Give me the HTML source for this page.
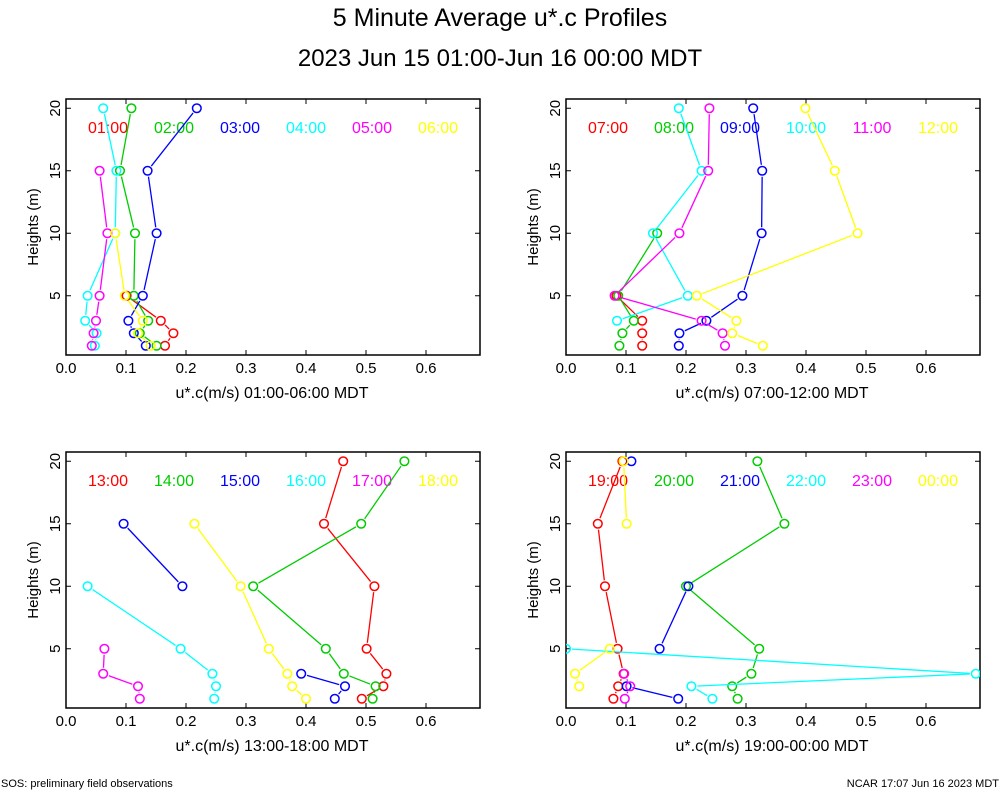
<!DOCTYPE html>
<html><head><meta charset="utf-8"><style>
body{margin:0;background:#fff;}
svg{display:block;font-family:"Liberation Sans",sans-serif;}
</style></head><body>
<svg id="chart" width="1000" height="800">
<text x="500" y="26" font-size="25" text-anchor="middle">5 Minute Average u*.c Profiles</text>
<text x="500" y="66" font-size="24" text-anchor="middle">2023 Jun 15 01:00-Jun 16 00:00 MDT</text>
<text x="1" y="787" font-size="11">SOS: preliminary field observations</text>
<text x="999" y="787" font-size="11" text-anchor="end">NCAR 17:07 Jun 16 2023 MDT</text>
</svg>
<script>
const heights = [1,2,3,5,10,15,20];
const xTicks = [0,0.1,0.2,0.3,0.4,0.5,0.6];
const xTickLabels = ["0.0","0.1","0.2","0.3","0.4","0.5","0.6"];
const yTicks = [5,10,15,20];
const colors = ["#ff0000","#00cc00","#0000ff","#00ffff","#ff00ff","#ffff00"];
const p1Labels = ["01:00","02:00","03:00","04:00","05:00","06:00"];
const p1s1 = [0.165,0.179,0.158,0.101,null,null,null];
const p1s2 = [0.151,0.123,0.137,0.113,0.115,0.090,0.109];
const p1s3 = [0.133,0.113,0.104,0.128,0.151,0.136,0.218];
const p1s4 = [0.048,0.051,0.032,0.036,0.082,0.084,0.062];
const p1s5 = [0.043,0.046,0.050,0.056,0.069,0.056,null];
const p1s6 = [0.141,0.120,0.128,0.098,0.082,null,null];
const p2Labels = ["07:00","08:00","09:00","10:00","11:00","12:00"];
const p2s1 = [0.127,0.127,0.127,0.084,null,null,null];
const p2s2 = [0.089,0.094,0.113,0.087,0.152,null,null];
const p2s3 = [0.188,0.189,0.234,0.294,0.326,0.327,0.312];
const p2s4 = [null,null,0.085,0.203,0.145,0.226,0.188];
const p2s5 = [0.265,0.261,0.226,0.081,0.189,0.237,0.239];
const p2s6 = [0.328,0.277,0.284,0.218,0.486,0.448,0.399];
const p3Labels = ["13:00","14:00","15:00","16:00","17:00","18:00"];
const p3s1 = [0.493,0.529,0.534,0.501,0.514,0.430,0.462];
const p3s2 = [0.511,0.516,0.463,0.433,0.312,0.492,0.564];
const p3s3 = [0.448,0.465,0.392,null,0.194,0.096,null];
const p3s4 = [0.247,0.250,0.244,0.191,0.036,null,null];
const p3s5 = [0.123,0.120,0.062,0.064,null,null,null];
const p3s6 = [0.400,0.377,0.369,0.338,0.291,0.214,null];
const p4Labels = ["19:00","20:00","21:00","22:00","23:00","00:00"];
const p4s1 = [0.079,0.087,0.096,0.086,0.065,0.053,0.094];
const p4s2 = [0.286,0.277,0.309,0.322,0.200,0.364,0.319];
const p4s3 = [0.187,0.101,null,0.156,0.204,null,0.109];
const p4s4 = [0.244,0.209,0.683,0.000,null,null,null];
const p4s5 = [0.098,0.107,0.097,null,null,null,null];
const p4s6 = [null,0.022,0.015,0.073,null,0.101,0.096];
const panels = [
 {x0:66,y0:99,labels:p1Labels,series:[p1s1,p1s2,p1s3,p1s4,p1s5,p1s6],xlabel:"u*.c(m/s) 01:00-06:00 MDT"},
 {x0:566,y0:99,labels:p2Labels,series:[p2s1,p2s2,p2s3,p2s4,p2s5,p2s6],xlabel:"u*.c(m/s) 07:00-12:00 MDT"},
 {x0:66,y0:452,labels:p3Labels,series:[p3s1,p3s2,p3s3,p3s4,p3s5,p3s6],xlabel:"u*.c(m/s) 13:00-18:00 MDT"},
 {x0:566,y0:452,labels:p4Labels,series:[p4s1,p4s2,p4s3,p4s4,p4s5,p4s6],xlabel:"u*.c(m/s) 19:00-00:00 MDT"}
];
const W=414,H=256,XMAX=0.69,YMIN=0.26,YMAX=20.74;
const svg=document.getElementById('chart');
const NS='http://www.w3.org/2000/svg';
function mk(tag,attrs,parent){const e=document.createElementNS(NS,tag);for(const k in attrs)e.setAttribute(k,attrs[k]);parent.appendChild(e);return e;}
panels.forEach((p,pi)=>{
 const sx=v=>p.x0+v/XMAX*W;
 const sy=v=>p.y0+H-(v-YMIN)/(YMAX-YMIN)*H;
 const g=mk('g',{},svg);
 
 
 const clipId='clip'+pi;
 const cp=mk('clipPath',{id:clipId},g);
 mk('rect',{x:p.x0,y:p.y0,width:W,height:H},cp);
 const frame=mk('rect',{x:p.x0,y:p.y0,width:W,height:H,fill:'none',stroke:'#000','stroke-width':1.5},g);
 
 
 xTicks.forEach((t,i)=>{
  const x=sx(t);
  mk('line',{x1:x,x2:x,y1:p.y0+H,y2:p.y0+H-5,stroke:'#000'},g);
  mk('line',{x1:x,x2:x,y1:p.y0,y2:p.y0+5,stroke:'#000'},g);
  const tl=mk('text',{x:x,y:p.y0+H+18,'font-size':15,'text-anchor':'middle'},g);
  tl.textContent=xTickLabels[i];
  
  
 });
 yTicks.forEach(t=>{
  const y=sy(t);
  mk('line',{x1:p.x0,x2:p.x0+5,y1:y,y2:y,stroke:'#000'},g);
  mk('line',{x1:p.x0+W,x2:p.x0+W-5,y1:y,y2:y,stroke:'#000'},g);
  const tl=mk('text',{x:0,y:0,'font-size':15,'text-anchor':'middle',transform:`translate(${p.x0-6},${y}) rotate(-90)`},g);
  tl.textContent=String(t);
  
  
 });
 const yl=mk('text',{x:0,y:0,'font-size':15,'text-anchor':'middle',transform:`translate(${p.x0-28},${p.y0+H/2}) rotate(-90)`},g);
 yl.textContent='Heights (m)';
 
 
 const xl=mk('text',{x:p.x0+W/2-1,y:p.y0+H+43,'font-size':16,'text-anchor':'middle'},g);
 xl.textContent=p.xlabel;
 
 
 p.labels.forEach((l,i)=>{
  const t=mk('text',{x:p.x0+42+i*66,y:p.y0+34,'font-size':16,'text-anchor':'middle',fill:colors[i]},g);
  t.textContent=l;
  
  
 });
 const dg=mk('g',{'clip-path':`url(#${clipId})`},g);
 p.series.forEach((s,si)=>{
  const col=colors[si];
  for(let k=0;k<s.length-1;k++){
   if(s[k]==null||s[k+1]==null)continue;
   const x1=sx(s[k]),y1=sy(heights[k]),x2=sx(s[k+1]),y2=sy(heights[k+1]);
   const dx=x2-x1,dy=y2-y1,L=Math.hypot(dx,dy),r=6;
   if(L<=2*r)continue;
   const ln=mk('line',{x1:x1+dx/L*r,y1:y1+dy/L*r,x2:x2-dx/L*r,y2:y2-dy/L*r,stroke:col,'stroke-width':1.3},dg);
   
   
  }
  s.forEach((v,k)=>{
   if(v==null)return;
   const c=mk('circle',{cx:sx(v),cy:sy(heights[k]),r:4.3,fill:'none',stroke:col,'stroke-width':1.5},dg);
   
   
  });
 });
});
</script>
</body></html>
